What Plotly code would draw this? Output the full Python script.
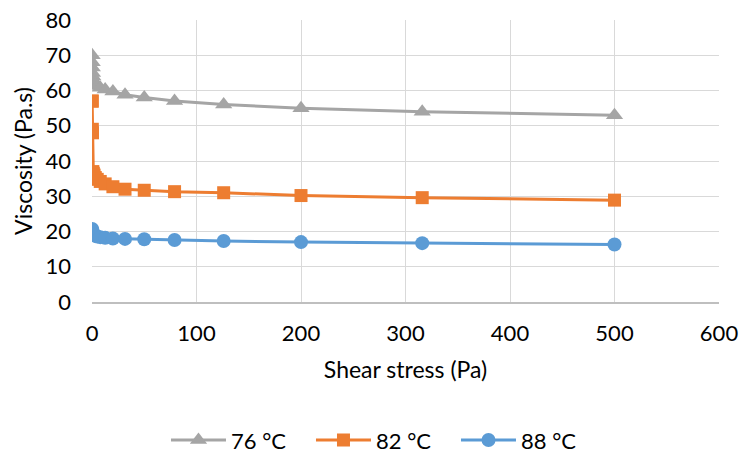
import plotly.graph_objects as go

shear_stress = [0.126, 0.2, 0.316, 0.5, 0.79, 1.26, 2, 3.16, 5, 7.9, 12.6, 20, 31.6, 50, 79, 126, 200, 316, 500]
visc_76 = [70, 68, 66.5, 65, 64, 63, 62.3, 61.8, 61.3, 60.8, 60.3, 59.7, 58.8, 58, 57, 56, 55, 54, 53]
visc_82 = [57, 57, 49, 48, 37, 36.5, 36, 35.3, 34.8, 34.2, 33.5, 32.7, 32, 31.7, 31.3, 31, 30.2, 29.6, 28.9]
visc_88 = [20.7, 20.4, 20.1, 19.8, 19.5, 19.2, 19.0, 18.8, 18.6, 18.4, 18.2, 18.0, 17.9, 17.8, 17.6, 17.3, 17.0, 16.7, 16.3]
series_names = ["76 °C", "82 °C", "88 °C"]
x_ticks = [0, 100, 200, 300, 400, 500, 600]
y_ticks = [0, 10, 20, 30, 40, 50, 60, 70, 80]

FONT = "Lato, Liberation Sans, sans-serif"

fig = go.Figure()
styles = [
    (visc_76, "#A5A5A5", "triangle-up", 15),
    (visc_82, "#ED7D31", "square", 13),
    (visc_88, "#5B9BD5", "circle", 14),
]
for name, (vals, color, sym, size) in zip(series_names, styles):
    fig.add_trace(go.Scatter(
        x=shear_stress, y=vals, name=name, mode="lines+markers",
        line=dict(color=color, width=3),
        marker=dict(symbol=sym, size=size, color=color),
    ))

fig.update_layout(
    width=742, height=454,
    margin=dict(l=92, r=23, t=20, b=152, autoexpand=False),
    paper_bgcolor="white", plot_bgcolor="white",
    font=dict(family=FONT, size=22, color="#000000"),
    showlegend=True,
    legend=dict(orientation="h", x=0.118, xanchor="left", y=-0.49, yanchor="middle",
                font=dict(size=22), itemwidth=55, entrywidth=75, entrywidthmode="pixels",
                traceorder="normal"),
    xaxis=dict(
        range=[0, 600], tickvals=x_ticks, showgrid=True, gridcolor="#D9D9D9", gridwidth=1,
        showline=True, linecolor="#BFBFBF", linewidth=1.5, zeroline=False,
        ticks="", ticklabelstandoff=11, automargin=False,
        title=dict(text="Shear stress (Pa)", standoff=17, font=dict(size=23)),
    ),
    yaxis=dict(
        range=[0, 80], tickvals=y_ticks, showgrid=True, gridcolor="#D9D9D9", gridwidth=1,
        showline=False, zeroline=False, ticks="", ticklabelstandoff=20, automargin=False,
        title=dict(text="Viscosity (Pa.s)", standoff=6, font=dict(size=23)),
    ),
)

fig.write_html("out.html", post_script="document.body.style.margin='0';",
               config={"displayModeBar": False})
